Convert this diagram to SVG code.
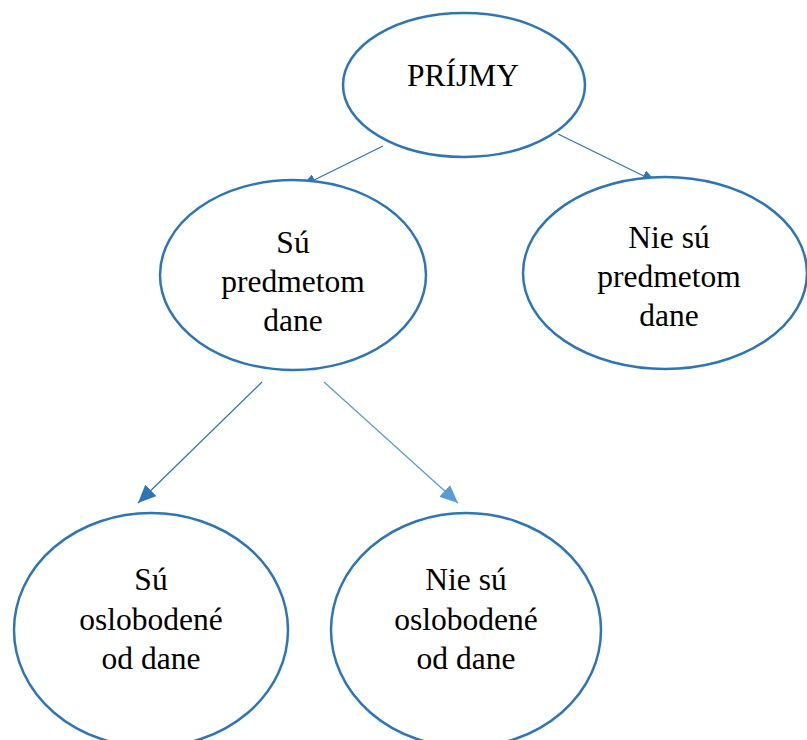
<svg xmlns="http://www.w3.org/2000/svg" width="807" height="740" viewBox="0 0 807 740">
<style>
.node ellipse{fill:#fff;stroke:#2E75B6;stroke-width:2.5}
.node text{font-family:"Liberation Serif","Times New Roman",serif;font-size:31.5px;fill:#000;text-anchor:middle}
.conn line{stroke-width:1.3;fill:none}
</style>
<defs>
<marker id="a1" markerUnits="userSpaceOnUse" markerWidth="14" markerHeight="12" refX="14" refY="6" orient="auto"><path d="M0,0L14,6L0,12z" fill="#2E75B6"/></marker>
<marker id="a2" markerUnits="userSpaceOnUse" markerWidth="18" markerHeight="16" refX="18" refY="8" orient="auto"><path d="M0,0L18,8L0,16z" fill="#2E75B6"/></marker>
<marker id="a3" markerUnits="userSpaceOnUse" markerWidth="18" markerHeight="16" refX="18" refY="8" orient="auto"><path d="M0,0L18,8L0,16z" fill="#5B9BD5"/></marker>
</defs>
<rect width="807" height="740" fill="#fff"/>
<g id="connectors" class="conn">
<line x1="383" y1="146" x2="302" y2="186" stroke="#2E75B6" marker-end="url(#a1)"/>
<line x1="558" y1="134" x2="656" y2="182" stroke="#2E75B6" marker-end="url(#a1)"/>
<line x1="262" y1="382" x2="138" y2="503" stroke="#2E75B6" marker-end="url(#a2)"/>
<line x1="324" y1="382" x2="458" y2="503" stroke="#5B9BD5" marker-end="url(#a3)"/>
</g>
<g id="prijmy" class="node">
<ellipse cx="464" cy="85" rx="121" ry="72"/>
<text x="463" y="86">PRÍJMY</text>
</g>
<g id="su-predmetom" class="node">
<ellipse cx="293" cy="275" rx="133" ry="95"/>
<text x="293" y="253">Sú</text>
<text x="293" y="292">predmetom</text>
<text x="293" y="331">dane</text>
</g>
<g id="nie-su-predmetom" class="node">
<ellipse cx="665" cy="273" rx="142" ry="96"/>
<text x="669" y="248">Nie sú</text>
<text x="669" y="287">predmetom</text>
<text x="669" y="326">dane</text>
</g>
<g id="su-oslobodene" class="node">
<ellipse cx="151" cy="630" rx="137" ry="117"/>
<text x="151" y="590">Sú</text>
<text x="151" y="630">oslobodené</text>
<text x="151" y="669">od dane</text>
</g>
<g id="nie-su-oslobodene" class="node">
<ellipse cx="466" cy="630" rx="135" ry="117"/>
<text x="466" y="590">Nie sú</text>
<text x="466" y="630">oslobodené</text>
<text x="466" y="669">od dane</text>
</g>
</svg>
